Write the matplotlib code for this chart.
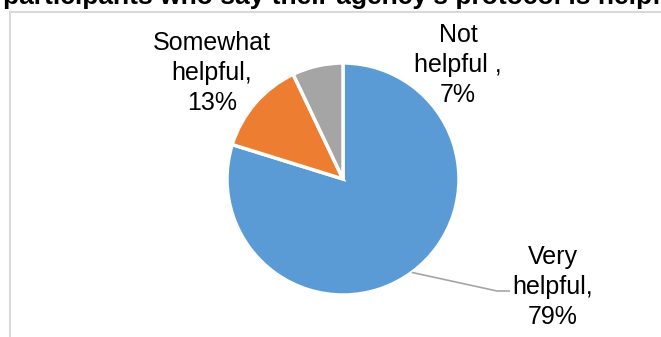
import numpy as np
import matplotlib
matplotlib.use('Agg')
import matplotlib.pyplot as plt

# Доли ответов
labels = ['Very\nhelpful,\n79%', 'Somewhat\nhelpful,\n13%', 'Not\nhelpful ,\n7%']
values = [79, 13, 7]
colors = ['#5B9BD5', '#ED7D31', '#A5A5A5']
title = "participants who say their agency's protocol is helpful"

W, H = 661, 337
plt.rcParams['font.family'] = ['Liberation Sans', 'DejaVu Sans']

fig = plt.figure(figsize=(W / 100, H / 100), dpi=100)
ax = fig.add_axes([0, 0, 1, 1])
ax.set_xlim(0, W)
ax.set_ylim(0, H)
ax.set_aspect('equal')
ax.axis('off')

# Круговая диаграмма, по часовой стрелке от 12 часов
cx, cy, r = 343, 158, 116
wedges, _ = ax.pie(values, colors=colors, startangle=90, counterclock=False,
                   center=(cx, cy), radius=r, frame=True,
                   wedgeprops=dict(edgecolor='white', linewidth=2.5))
ax.set_xlim(0, W)
ax.set_ylim(0, H)
ax.axis('off')

# Подписи секторов
fs = 18
ax.text(553, 50, labels[0], ha='center', va='center', fontsize=fs, linespacing=1.3)
ax.text(212, 264, labels[1], ha='center', va='center', fontsize=fs, linespacing=1.3)
ax.text(458, 272, labels[2], ha='center', va='center', fontsize=fs, linespacing=1.3)

# Выноска к синему сектору
w0 = wedges[0]
mid = np.deg2rad((w0.theta1 + w0.theta2) / 2)
ex, ey = cx + r * np.cos(mid), cy + r * np.sin(mid)
ax.plot([ex, 497, 510], [ey, 46, 46], color='#A5A5A5', lw=1.2, solid_capstyle='butt')

# Рамка области диаграммы
ax.plot([9.5, 9.5], [0, H - 12], color='#D9D9D9', lw=1.5)
ax.plot([9.5, W], [H - 12, H - 12], color='#D9D9D9', lw=1.5)

# Заголовок (верх обрезан)
fig.text(3 / W, 1 - 4 / H, title, ha='left', va='baseline', fontsize=19, fontweight='bold')

fig.savefig('out.png', dpi=100)
